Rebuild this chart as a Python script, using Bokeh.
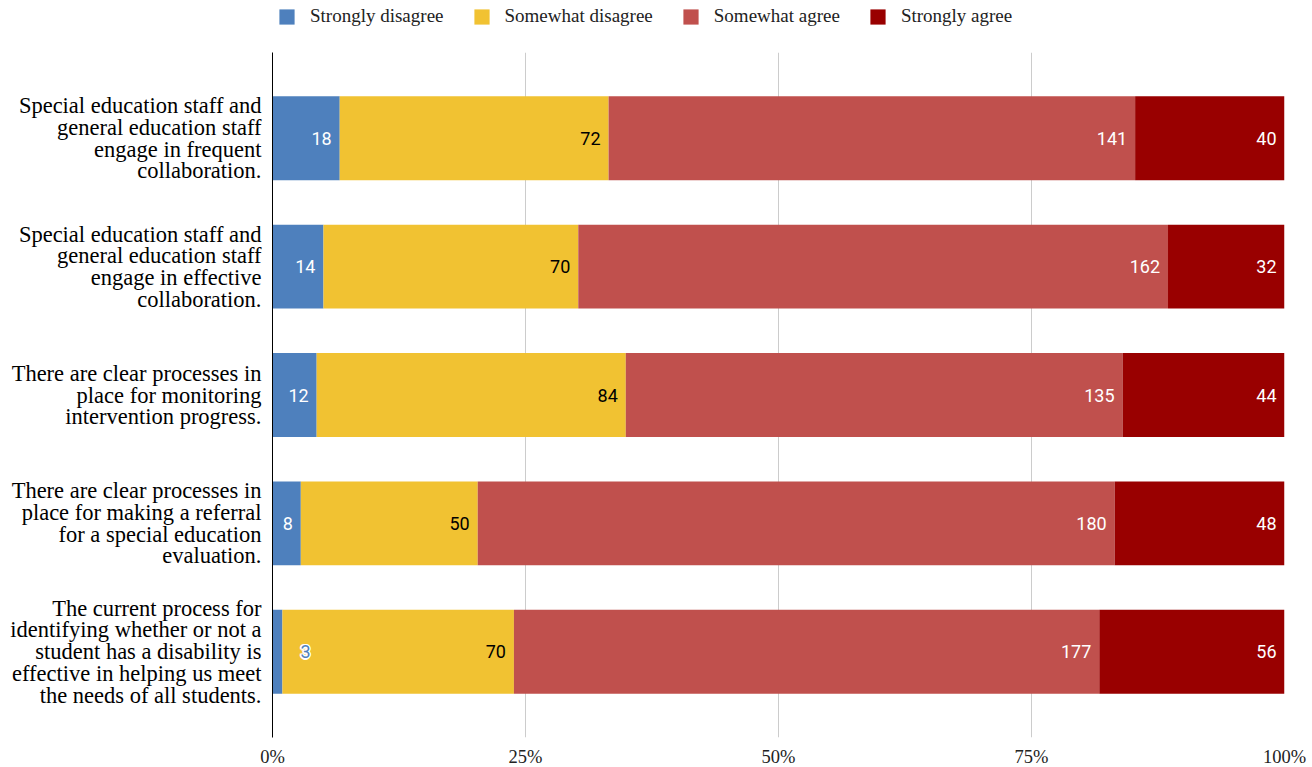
from bokeh.plotting import figure
from bokeh.layouts import column
from bokeh.models import ColumnDataSource, Legend, LegendItem, FixedTicker, Range1d
from bokeh.core.properties import value
from bokeh.embed import file_html
from bokeh.resources import INLINE

# Survey statements (wrapped as they appear on the axis)
statements = [
    "Special education staff and\ngeneral education staff\nengage in frequent\ncollaboration.",
    "Special education staff and\ngeneral education staff\nengage in effective\ncollaboration.",
    "There are clear processes in\nplace for monitoring\nintervention progress.",
    "There are clear processes in\nplace for making a referral\nfor a special education\nevaluation.",
    "The current process for\nidentifying whether or not a\nstudent has a disability is\neffective in helping us meet\nthe needs of all students.",
]

series_names = ["Strongly disagree", "Somewhat disagree", "Somewhat agree", "Strongly agree"]

# Response counts per statement
strongly_disagree = [18, 14, 12, 8, 3]
somewhat_disagree = [72, 70, 84, 50, 70]
somewhat_agree = [141, 162, 135, 180, 177]
strongly_agree = [40, 32, 44, 48, 56]

x_ticks = [0, 25, 50, 75, 100]
x_tick_labels = ["0%", "25%", "50%", "75%", "100%"]

colors = ["#4e80bd", "#f1c232", "#c0504d", "#990000"]
label_colors = ["white", "black", "white", "white"]

counts = [strongly_disagree, somewhat_disagree, somewhat_agree, strongly_agree]
n = len(statements)
totals = [sum(c[i] for c in counts) for i in range(n)]
keys = ["s%d" % k for k in range(len(counts))]

data = {"y": list(range(n))}
for key, c in zip(keys, counts):
    data[key] = [c[i] / totals[i] * 100.0 for i in range(n)]
source = ColumnDataSource(data)

WIDTH = 1312
LEGEND_H = 52
FRAME_W, FRAME_H = 1012, 685

# --- main chart -------------------------------------------------------------
p = figure(
    frame_width=FRAME_W, frame_height=FRAME_H,
    min_border_left=271, min_border_right=29,
    min_border_top=0, min_border_bottom=30,
    x_range=Range1d(0, 100), y_range=Range1d(4.668, -0.668),
    output_backend="svg", toolbar_location=None,
)
p.outline_line_color = None
p.background_fill_color = "white"
p.border_fill_color = "white"

renderers = p.hbar_stack(keys, y="y", height=0.654, color=colors,
                         line_width=0, source=source)

# Value labels: right-aligned inside each segment, or just past a segment too narrow to hold them
px_per_unit = FRAME_W / 100.0
inside = {"x": [], "y": [], "t": [], "c": []}
outside = {"x": [], "y": [], "t": []}
for k, key in enumerate(keys):
    for i in range(n):
        end = sum(data[kk][i] for kk in keys[:k + 1])
        seg_px = data[key][i] * px_per_unit
        txt = str(counts[k][i])
        txt_px = len(txt) * 0.56 * 18
        if seg_px >= txt_px + 16:
            inside["x"].append(end)
            inside["y"].append(i)
            inside["t"].append(txt)
            inside["c"].append(label_colors[k])
        else:
            outside["x"].append(end)
            outside["y"].append(i)
            outside["t"].append(txt)

label_font = dict(text_font=value("Roboto"), text_font_size="18px", text_baseline="middle")
p.text(x="x", y="y", text="t", text_color="c", source=ColumnDataSource(inside),
       text_align="right", x_offset=-8, **label_font)

# outside labels get a white halo so they stay readable over the next segment
out_src = ColumnDataSource(outside)
for dx, dy in [(-1.5, 0), (1.5, 0), (0, -1.5), (0, 1.5),
               (-1.1, -1.1), (1.1, -1.1), (-1.1, 1.1), (1.1, 1.1)]:
    p.text(x="x", y="y", text="t", source=out_src, text_color="white",
           text_align="left", x_offset=18 + dx, y_offset=dy, **label_font)
p.text(x="x", y="y", text="t", source=out_src, text_color=colors[0],
       text_align="left", x_offset=18, **label_font)

# Axes
p.yaxis.ticker = FixedTicker(ticks=list(range(n)))
p.yaxis.major_label_overrides = {i: s for i, s in enumerate(statements)}
p.yaxis.major_tick_line_color = None
p.yaxis.minor_tick_line_color = None
p.yaxis.major_tick_out = 0
p.yaxis.major_tick_in = 0
p.yaxis.axis_line_color = "black"
p.yaxis.axis_line_width = 1
p.yaxis.major_label_standoff = 11
p.yaxis.major_label_text_font = "Liberation Serif"
p.yaxis.major_label_text_font_size = "22.5px"
p.yaxis.major_label_text_line_height = 0.87
p.yaxis.major_label_text_color = "black"

p.xaxis.ticker = FixedTicker(ticks=x_ticks)
p.xaxis.major_label_overrides = {t: s for t, s in zip(x_ticks, x_tick_labels)}
p.xaxis.axis_line_color = None
p.xaxis.major_tick_line_color = None
p.xaxis.minor_tick_line_color = None
p.xaxis.major_tick_out = 0
p.xaxis.major_tick_in = 0
p.xaxis.major_label_standoff = 9
p.xaxis.major_label_text_font = "Liberation Serif"
p.xaxis.major_label_text_font_size = "18.5px"
p.xaxis.major_label_text_color = "#222222"

p.xgrid.ticker = FixedTicker(ticks=x_ticks[1:])
p.xgrid.grid_line_color = "#cccccc"
p.ygrid.grid_line_color = None

# --- legend strip across the top -------------------------------------------
lg = figure(
    width=WIDTH, height=LEGEND_H,
    min_border_left=272, min_border_right=0, min_border_top=0, min_border_bottom=0,
    x_axis_type=None, y_axis_type=None,
    x_range=Range1d(0, 1), y_range=Range1d(0, 1),
    output_backend="svg", toolbar_location=None,
)
lg.outline_line_color = None
lg.grid.grid_line_color = None
# zero-width swatch renderers: only their legend glyphs show
swatch_src = ColumnDataSource({"y": [0.5], "left": [0], "right": [0]})
swatches = [lg.hbar(y="y", left="left", right="right", height=0.5,
                    fill_color=c, line_color=None, source=swatch_src) for c in colors]

legend = Legend(
    items=[LegendItem(label=s, renderers=[r]) for s, r in zip(series_names, swatches)],
    orientation="horizontal", location="top_left",
    padding=0, margin=5, spacing=28, label_standoff=14,
    glyph_width=19, glyph_height=19, label_height=19,
    label_text_font="Liberation Serif", label_text_font_size="19px",
    label_text_color="#222222",
    border_line_alpha=0, background_fill_alpha=0,
)
lg.add_layout(legend)

layout = column(lg, p, spacing=0)
open("out.html", "w").write(file_html(layout, INLINE))
